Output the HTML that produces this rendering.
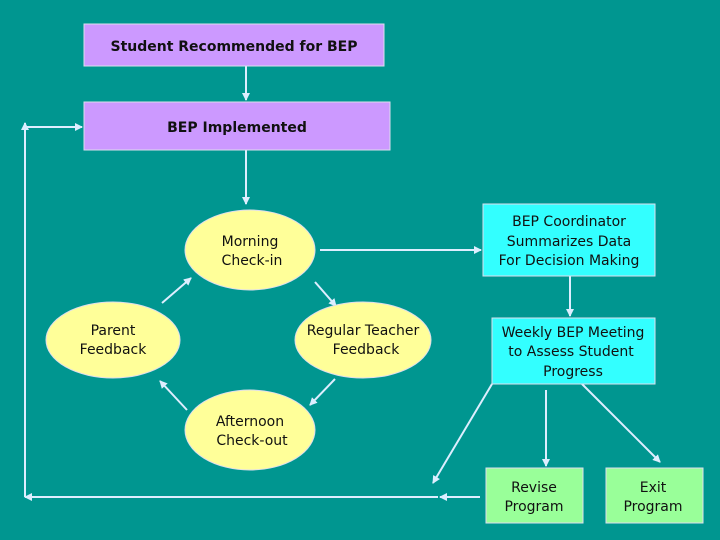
<!DOCTYPE html><html><head><style>body{margin:0;width:720px;height:540px;background:#009690;overflow:hidden}svg{display:block}text{font-family:"DejaVu Sans","Liberation Sans",sans-serif;font-size:14px;fill:#111;text-anchor:middle}</style></head><body>
<svg width="720" height="540" viewBox="0 0 720 540">
<defs><marker id="a" markerWidth="8" markerHeight="8" refX="7" refY="4" orient="auto" markerUnits="userSpaceOnUse"><path d="M0,0L8,4L0,8z" fill="#ddeeff"/></marker></defs>
<g stroke="#ddeeff" stroke-width="2" fill="none" marker-end="url(#a)">
<line x1="246" y1="66" x2="246" y2="100"/>
<line x1="246" y1="150" x2="246" y2="204"/>
<polyline points="438,497 25,497" />
<line x1="25" y1="497" x2="25" y2="123"/>
<line x1="25" y1="127" x2="82" y2="127"/>
<line x1="480" y1="497" x2="440" y2="497"/>
<line x1="320" y1="250" x2="481" y2="250"/>
<line x1="570" y1="276" x2="570" y2="316"/>
<line x1="546" y1="390" x2="546" y2="466"/>
<line x1="582" y1="384" x2="660" y2="462"/>
<line x1="492" y1="384" x2="433" y2="483"/>
<line x1="315" y1="282" x2="336" y2="306"/>
<line x1="335" y1="379" x2="310" y2="405"/>
<line x1="187" y1="410" x2="160" y2="381"/>
<line x1="162" y1="303" x2="191" y2="278"/>
</g>
<g stroke="#dde" stroke-width="1">
<rect x="84" y="24" width="300" height="42" fill="#cc99ff"/>
<rect x="84" y="102" width="306" height="48" fill="#cc99ff"/>
<rect x="483" y="204" width="172" height="72" fill="#33ffff"/>
<rect x="492" y="318" width="163" height="66" fill="#33ffff"/>
<rect x="486" y="468" width="97" height="55" fill="#99ff99"/>
<rect x="606" y="468" width="97" height="55" fill="#99ff99"/>
<ellipse cx="250" cy="250" rx="65" ry="40" fill="#ffff99"/>
<ellipse cx="113" cy="340" rx="67" ry="38" fill="#ffff99"/>
<ellipse cx="363" cy="340" rx="68" ry="38" fill="#ffff99"/>
<ellipse cx="250" cy="430" rx="65" ry="40" fill="#ffff99"/>
</g>
<text x="234" y="51" font-weight="bold">Student Recommended for BEP</text>
<text x="237" y="132" font-weight="bold">BEP Implemented</text>
<text x="250" y="246">Morning</text><text x="252" y="265">Check-in</text>
<text x="113" y="335">Parent</text><text x="113" y="354">Feedback</text>
<text x="363" y="335">Regular Teacher</text><text x="366" y="354">Feedback</text>
<text x="250" y="426">Afternoon</text><text x="252" y="445">Check-out</text>
<text x="569" y="226">BEP Coordinator</text><text x="569" y="246">Summarizes Data</text><text x="569" y="265">For Decision Making</text>
<text x="573" y="337">Weekly BEP Meeting</text><text x="571" y="356">to Assess Student</text><text x="573" y="376">Progress</text>
<text x="534" y="492">Revise</text><text x="534" y="511">Program</text>
<text x="653" y="492">Exit</text><text x="653" y="511">Program</text>
</svg></body></html>
